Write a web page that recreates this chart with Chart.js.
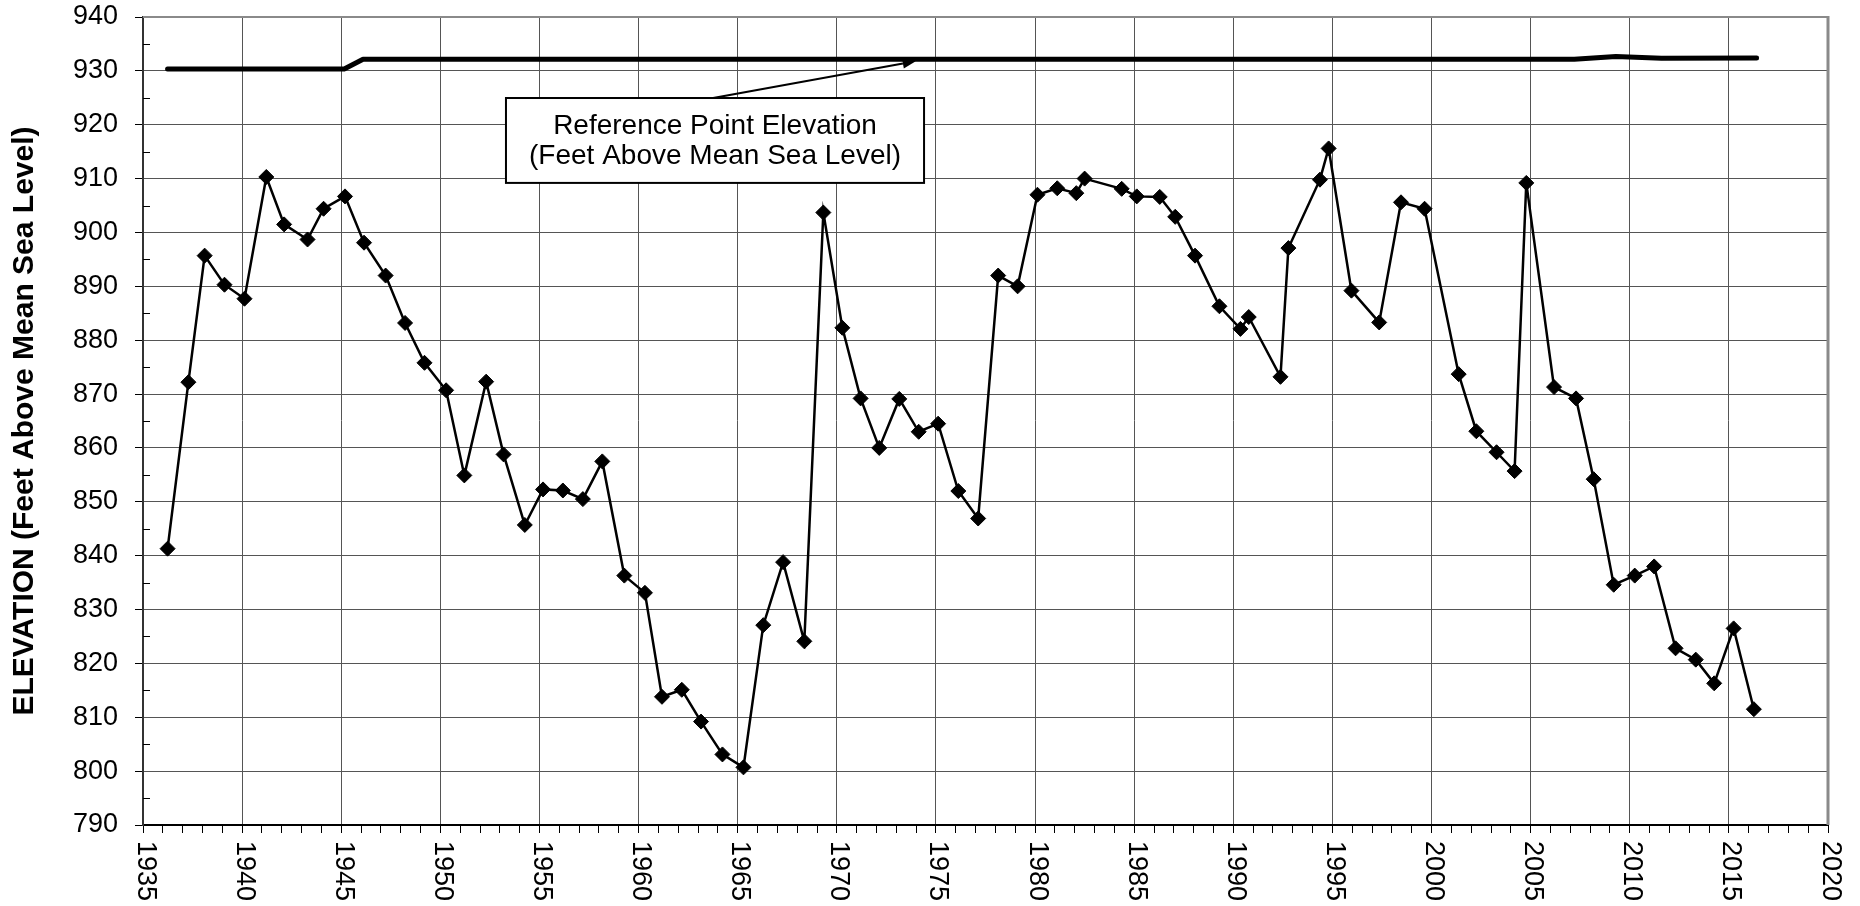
<!DOCTYPE html>
<html>
<head>
<meta charset="utf-8">
<script src="https://cdn.jsdelivr.net/npm/chart.js@4.4.1/dist/chart.umd.min.js"></script>
<style>
  html, body { margin: 0; padding: 0; background: #ffffff; }
  canvas { display: block; }
</style>
</head>
<body>
<canvas id="chart" width="1860" height="906"></canvas>
<script>
// ---------------- DATA ----------------
const years = [
  1936.24, 1937.29, 1938.11, 1939.11, 1940.12, 1941.22, 1942.12, 1943.30, 1944.11, 1945.19,
  1946.15, 1947.24, 1948.22, 1949.20, 1950.29, 1951.21, 1952.31, 1953.19, 1954.26, 1955.18,
  1956.18, 1957.19, 1958.17, 1959.28, 1960.32, 1961.18, 1962.18, 1963.15, 1964.23, 1965.29,
  1966.29, 1967.29, 1968.36, 1969.32, 1970.28, 1971.20, 1972.14, 1973.15, 1974.13, 1975.11,
  1976.13, 1977.13, 1978.14, 1979.12, 1980.12, 1981.12, 1982.08, 1982.50, 1984.37, 1985.13,
  1986.29, 1987.07, 1988.07, 1989.30, 1990.36, 1990.78, 1992.38, 1992.78, 1994.37, 1994.81,
  1995.96, 1997.36, 1998.46, 1999.65, 2001.37, 2002.26, 2003.28, 2004.19, 2004.78, 2006.18,
  2007.29, 2008.18, 2009.19, 2010.25, 2011.23, 2012.31, 2013.33, 2014.26, 2015.24, 2016.26
];
const elevations = [
  841.3, 872.2, 895.7, 890.3, 887.7, 910.3, 901.5, 898.7, 904.4, 906.7,
  898.1, 892.0, 883.2, 875.8, 870.7, 854.9, 872.3, 858.8, 845.7, 852.3,
  852.1, 850.5, 857.5, 836.3, 833.1, 813.8, 815.1, 809.2, 803.1, 800.7,
  827.1, 838.8, 824.1, 903.7, 882.3, 869.2, 860.0, 869.1, 863.0, 864.5,
  852.0, 846.9, 892.0, 890.0, 907.0, 908.2, 907.3, 910.0, 908.1, 906.7,
  906.6, 902.9, 895.7, 886.3, 882.1, 884.3, 873.2, 897.1, 909.8, 915.6,
  889.2, 883.3, 905.6, 904.4, 873.7, 863.1, 859.2, 855.7, 909.2, 871.3,
  869.2, 854.2, 834.6, 836.3, 838.0, 822.8, 820.7, 816.3, 826.5, 811.5
];
const refYears = [1936.24, 1945.15, 1946.10, 2007.20, 2009.30, 2011.60, 2016.40];
const refElevations = [930.35, 930.35, 932.15, 932.15, 932.65, 932.35, 932.4];

const xTickYears = [1935, 1940, 1945, 1950, 1955, 1960, 1965, 1970, 1975, 1980,
                    1985, 1990, 1995, 2000, 2005, 2010, 2015, 2020];
const xTickLabels = xTickYears.map(String);
const yTickValues = [790, 800, 810, 820, 830, 840, 850, 860, 870, 880, 890, 900, 910, 920, 930, 940];
const yAxisTitle = 'ELEVATION (Feet Above Mean Sea Level)';
const noteLines = ['Reference Point Elevation', '(Feet Above Mean Sea Level)'];

// ---------------- STYLE / LAYOUT ----------------
const FONT = "'Liberation Sans', Arial, Helvetica, sans-serif";
const GRID = '#555555';
const FRAME = '#8a8a8a';
// annotation placed in data units
const noteBox = { x0: 1953.31, x1: 1974.40, yTop: 924.96, yBottom: 909.2 };
const noteArrow = { fromX: 1963.76, toX: 1973.98, toY: 931.8 };

const decor = {
  id: 'decor',
  beforeDatasetsDraw(chart) {
    const { ctx, chartArea: a } = chart;
    const ys = chart.scales.y;
    ctx.save();
    ctx.strokeStyle = '#000';
    ctx.lineWidth = 1;
    for (let i = 0; i < yTickValues.length - 1; i++) {
      const v = (yTickValues[i] + yTickValues[i + 1]) / 2;
      const y = Math.round(ys.getPixelForValue(v)) + 0.5;
      ctx.beginPath();
      ctx.moveTo(a.left, y);
      ctx.lineTo(a.left + 7, y);
      ctx.stroke();
    }
    ctx.strokeStyle = FRAME;
    ctx.lineWidth = 2;
    ctx.beginPath();
    ctx.moveTo(a.left, a.top);
    ctx.lineTo(a.right, a.top);
    ctx.stroke();
    ctx.lineWidth = 3;
    ctx.beginPath();
    ctx.moveTo(a.right, a.top - 1);
    ctx.lineTo(a.right, a.bottom);
    ctx.stroke();
    ctx.restore();
  },
  afterDatasetsDraw(chart) {
    const { ctx } = chart;
    const xs = chart.scales.x, ys = chart.scales.y;
    ctx.save();
    const ax0 = xs.getPixelForValue(noteArrow.fromX);
    const ay0 = ys.getPixelForValue(noteBox.yTop);
    const ax1 = xs.getPixelForValue(noteArrow.toX);
    const ay1 = ys.getPixelForValue(noteArrow.toY);
    const ang = Math.atan2(ay1 - ay0, ax1 - ax0);
    const headLen = 13, headW = 5;
    const bx = ax1 - headLen * Math.cos(ang), by = ay1 - headLen * Math.sin(ang);
    ctx.strokeStyle = '#000';
    ctx.fillStyle = '#000';
    ctx.lineWidth = 2;
    ctx.beginPath();
    ctx.moveTo(ax0, ay0);
    ctx.lineTo(bx, by);
    ctx.stroke();
    ctx.beginPath();
    ctx.moveTo(ax1, ay1);
    ctx.lineTo(bx + headW * Math.sin(ang), by - headW * Math.cos(ang));
    ctx.lineTo(bx - headW * Math.sin(ang), by + headW * Math.cos(ang));
    ctx.closePath();
    ctx.fill();
    const x0 = xs.getPixelForValue(noteBox.x0), x1 = xs.getPixelForValue(noteBox.x1);
    const y0 = ys.getPixelForValue(noteBox.yTop), y1 = ys.getPixelForValue(noteBox.yBottom);
    ctx.fillStyle = '#fff';
    ctx.fillRect(x0, y0, x1 - x0, y1 - y0);
    ctx.lineWidth = 2;
    ctx.strokeStyle = '#000';
    ctx.strokeRect(x0, y0, x1 - x0, y1 - y0);
    ctx.fillStyle = '#000';
    ctx.font = '28px ' + FONT;
    ctx.textAlign = 'center';
    ctx.textBaseline = 'middle';
    const cx = (x0 + x1) / 2, cy = (y0 + y1) / 2;
    ctx.fillText(noteLines[0], cx, cy - 14);
    ctx.fillText(noteLines[1], cx, cy + 16);
    ctx.restore();
  },
  afterDraw(chart) {
    const { ctx } = chart;
    const xs = chart.scales.x;
    ctx.save();
    ctx.fillStyle = '#000';
    ctx.font = '27px ' + FONT;
    ctx.textAlign = 'left';
    ctx.textBaseline = 'middle';
    xTickYears.forEach((yr, i) => {
      const x = xs.getPixelForValue(yr);
      ctx.save();
      ctx.translate(x + 2, xs.top + 16);
      ctx.rotate(Math.PI / 2);
      ctx.fillText(xTickLabels[i], 0, 0);
      ctx.restore();
    });
    ctx.restore();
  }
};

new Chart(document.getElementById('chart'), {
  type: 'line',
  data: {
    datasets: [
      {
        label: 'Reference Point Elevation',
        data: refYears.map((x, i) => ({ x, y: refElevations[i] })),
        borderColor: '#000',
        borderWidth: 5,
        borderCapStyle: 'round',
        borderJoinStyle: 'round',
        pointRadius: 0,
        tension: 0,
        order: 2
      },
      {
        label: 'Elevation',
        data: years.map((x, i) => ({ x, y: elevations[i] })),
        borderColor: '#000',
        backgroundColor: '#000',
        borderWidth: 2.5,
        pointStyle: 'rectRot',
        pointRadius: 7.5,
        pointBorderWidth: 1,
        pointBackgroundColor: '#000',
        pointBorderColor: '#000',
        tension: 0,
        order: 1
      }
    ]
  },
  options: {
    responsive: false,
    devicePixelRatio: 1,
    animation: false,
    events: [],
    layout: { padding: { top: 17, right: 32, bottom: 0, left: 0 } },
    plugins: { legend: { display: false }, tooltip: { enabled: false } },
    scales: {
      x: {
        type: 'linear',
        min: xTickYears[0],
        max: xTickYears[xTickYears.length - 1],
        afterBuildTicks: (s) => {
          const t = [];
          for (let v = xTickYears[0]; v <= xTickYears[xTickYears.length - 1]; v++) t.push({ value: v });
          s.ticks = t;
        },
        afterFit: (s) => { s.height = 81; s.paddingLeft = 0; s.paddingRight = 0; },
        ticks: { display: false },
        grid: {
          color: (c) => (c.tick && xTickYears.includes(c.tick.value)) ? GRID : 'rgba(0,0,0,0)',
          tickColor: '#000',
          lineWidth: 1,
          tickLength: 8,
          drawTicks: true
        },
        border: { display: true, color: '#000', width: 2 }
      },
      y: {
        type: 'linear',
        min: yTickValues[0],
        max: yTickValues[yTickValues.length - 1],
        afterBuildTicks: (s) => { s.ticks = yTickValues.map(v => ({ value: v })); },
        afterFit: (s) => { s.width = 143; s.paddingTop = 0; s.paddingBottom = 0; },
        ticks: {
          color: '#000',
          font: { family: FONT, size: 27 },
          padding: 17
        },
        grid: {
          color: GRID,
          tickColor: '#000',
          lineWidth: 1,
          tickLength: 8
        },
        border: { display: true, color: '#333', width: 2 },
        title: {
          display: true,
          text: yAxisTitle,
          color: '#000',
          font: { family: FONT, size: 30, weight: 'bold' },
          padding: { top: 7, bottom: 0 }
        }
      }
    }
  },
  plugins: [decor]
});
</script>
</body>
</html>
